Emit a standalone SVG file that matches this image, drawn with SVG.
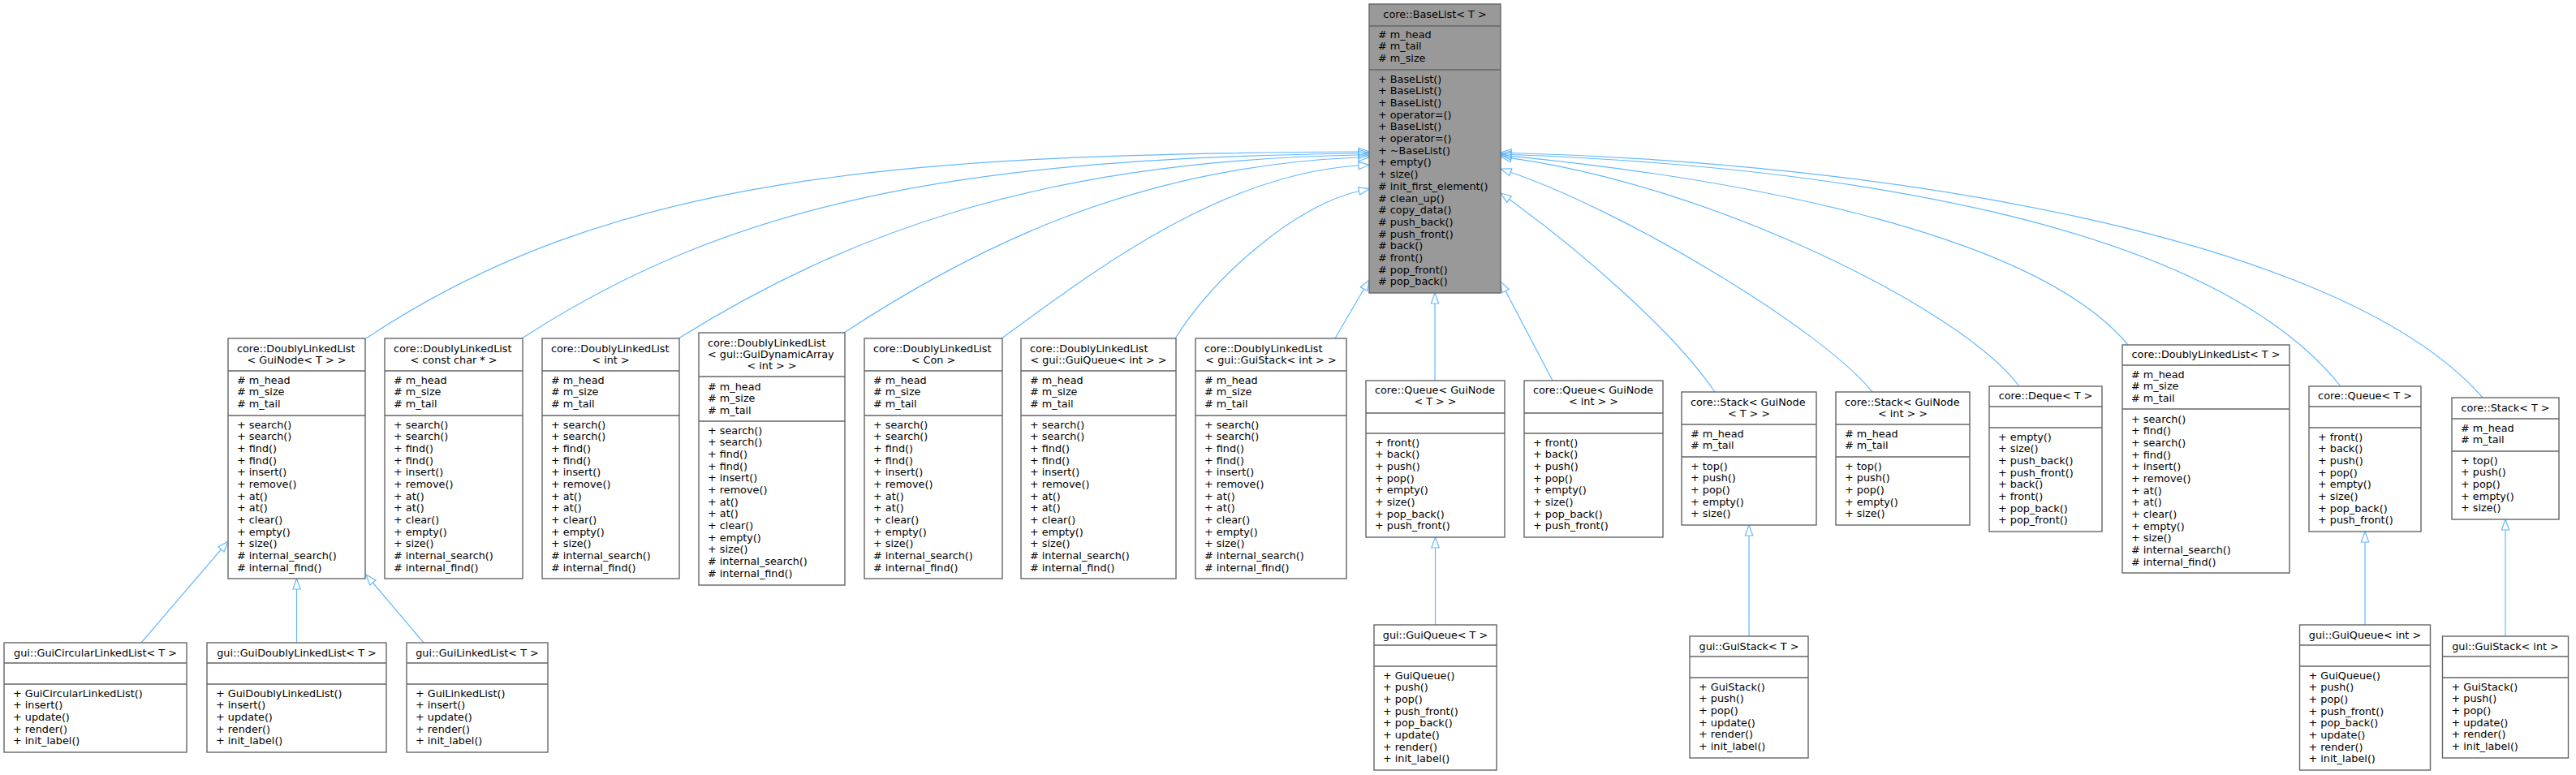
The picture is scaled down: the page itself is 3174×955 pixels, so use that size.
<svg xmlns="http://www.w3.org/2000/svg" width="3174" height="955" viewBox="0 0 3174 955">
<style>
.bx{fill:#ffffff;stroke:#666666;stroke-width:1.4}
.hl{fill:#999999}
.sep{fill:none;stroke:#666666;stroke-width:1.4}
.t{font-family:"DejaVu Sans","Liberation Sans",sans-serif;font-size:12.8px;fill:#000000}
.c{text-anchor:middle}
.e{fill:none;stroke:#63b8ff;stroke-width:1.2;marker-end:url(#tri)}
</style>
<defs>
<marker id="tri" markerUnits="userSpaceOnUse" viewBox="-1 -6 15 12" markerWidth="15" markerHeight="12" refX="0" refY="0" orient="auto" overflow="visible">
<path d="M0,-4.7L13,0L0,4.7Z" fill="none" stroke="#63b8ff" stroke-width="1.2"/>
</marker>
</defs>
<rect width="3174" height="955" fill="#ffffff"/>

<g id="edges">
<path class="e" d="M451,417C751,217 1100,190 1674,187"/>
<path class="e" d="M643,417C900,250 1180,195 1674,189"/>
<path class="e" d="M836,417C1040,290 1280,198 1674,191"/>
<path class="e" d="M1040,410C1200,305 1400,205 1674,194"/>
<path class="e" d="M1234,417C1340,340 1500,215 1674,204"/>
<path class="e" d="M1448,417C1500,335 1600,252 1674.5,235.5"/>
<path class="e" d="M1645,417L1680.5,356.2"/>
<path class="e" d="M1768,469L1768,374"/>
<path class="e" d="M1913,469L1855,358.5"/>
<path class="e" d="M2113,483C2060,405 1940.5,304 1859.5,245.6"/>
<path class="e" d="M2307,483C2244,405 2003,261 1861.3,212.2"/>
<path class="e" d="M2488,476C2416,380 2109,229 1861.9,194.8"/>
<path class="e" d="M2622,425C2510,290 2159,222 1862,192.3"/>
<path class="e" d="M2884,476C2720,270 2250,205 1862,190.5"/>
<path class="e" d="M3059,490C2880,285 2300,200 1862,188.5"/>
<path class="e" d="M174,792L272.5,677"/>
<path class="e" d="M365.5,792L365.5,726"/>
<path class="e" d="M522,792L459.4,718"/>
<path class="e" d="M1768.5,770L1768.5,675"/>
<path class="e" d="M2155,784L2155,660"/>
<path class="e" d="M2914,770L2914,668"/>
<path class="e" d="M3087,784L3087,653"/>
</g>

<g id="n_base">
<rect class="bx hl" x="1687" y="5" width="162" height="356"/>
<path class="sep" d="M1687,32H1849M1687,86H1849"/>
<text class="t c" x="1768" y="22">core::BaseList&lt; T &gt;</text>
<text class="t" y="46.5"><tspan x="1698"># m_head</tspan><tspan x="1698" dy="14.67"># m_tail</tspan><tspan x="1698" dy="14.67"># m_size</tspan></text>
<text class="t" y="101.8"><tspan x="1698">+ BaseList()</tspan><tspan x="1698" dy="14.67">+ BaseList()</tspan><tspan x="1698" dy="14.67">+ BaseList()</tspan><tspan x="1698" dy="14.67">+ operator=()</tspan><tspan x="1698" dy="14.67">+ BaseList()</tspan><tspan x="1698" dy="14.67">+ operator=()</tspan><tspan x="1698" dy="14.67">+ ~BaseList()</tspan><tspan x="1698" dy="14.67">+ empty()</tspan><tspan x="1698" dy="14.67">+ size()</tspan><tspan x="1698" dy="14.67"># init_first_element()</tspan><tspan x="1698" dy="14.67"># clean_up()</tspan><tspan x="1698" dy="14.67"># copy_data()</tspan><tspan x="1698" dy="14.67"># push_back()</tspan><tspan x="1698" dy="14.67"># push_front()</tspan><tspan x="1698" dy="14.67"># back()</tspan><tspan x="1698" dy="14.67"># front()</tspan><tspan x="1698" dy="14.67"># pop_front()</tspan><tspan x="1698" dy="14.67"># pop_back()</tspan></text>
</g>

<g id="n_dll_guinode">
<rect class="bx" x="281" y="417" width="169" height="296"/>
<path class="sep" d="M281,457H450M281,512H450"/>
<text class="t" x="292" y="433.5">core::DoublyLinkedList</text>
<text class="t c" x="365.5" y="447.5">&lt; GuiNode&lt; T &gt; &gt;</text>
<text class="t" y="472.5"><tspan x="292"># m_head</tspan><tspan x="292" dy="14.67"># m_size</tspan><tspan x="292" dy="14.67"># m_tail</tspan></text>
<text class="t" y="527.5"><tspan x="292">+ search()</tspan><tspan x="292" dy="14.67">+ search()</tspan><tspan x="292" dy="14.67">+ find()</tspan><tspan x="292" dy="14.67">+ find()</tspan><tspan x="292" dy="14.67">+ insert()</tspan><tspan x="292" dy="14.67">+ remove()</tspan><tspan x="292" dy="14.67">+ at()</tspan><tspan x="292" dy="14.67">+ at()</tspan><tspan x="292" dy="14.67">+ clear()</tspan><tspan x="292" dy="14.67">+ empty()</tspan><tspan x="292" dy="14.67">+ size()</tspan><tspan x="292" dy="14.67"># internal_search()</tspan><tspan x="292" dy="14.67"># internal_find()</tspan></text>
</g>

<g id="n_dll_cchar">
<rect class="bx" x="474" y="417" width="170" height="296"/>
<path class="sep" d="M474,457H644M474,512H644"/>
<text class="t" x="485" y="433.5">core::DoublyLinkedList</text>
<text class="t c" x="559" y="447.5">&lt; const char * &gt;</text>
<text class="t" y="472.5"><tspan x="485"># m_head</tspan><tspan x="485" dy="14.67"># m_size</tspan><tspan x="485" dy="14.67"># m_tail</tspan></text>
<text class="t" y="527.5"><tspan x="485">+ search()</tspan><tspan x="485" dy="14.67">+ search()</tspan><tspan x="485" dy="14.67">+ find()</tspan><tspan x="485" dy="14.67">+ find()</tspan><tspan x="485" dy="14.67">+ insert()</tspan><tspan x="485" dy="14.67">+ remove()</tspan><tspan x="485" dy="14.67">+ at()</tspan><tspan x="485" dy="14.67">+ at()</tspan><tspan x="485" dy="14.67">+ clear()</tspan><tspan x="485" dy="14.67">+ empty()</tspan><tspan x="485" dy="14.67">+ size()</tspan><tspan x="485" dy="14.67"># internal_search()</tspan><tspan x="485" dy="14.67"># internal_find()</tspan></text>
</g>

<g id="n_dll_int">
<rect class="bx" x="668" y="417" width="169" height="296"/>
<path class="sep" d="M668,457H837M668,512H837"/>
<text class="t" x="679" y="433.5">core::DoublyLinkedList</text>
<text class="t c" x="752.5" y="447.5">&lt; int &gt;</text>
<text class="t" y="472.5"><tspan x="679"># m_head</tspan><tspan x="679" dy="14.67"># m_size</tspan><tspan x="679" dy="14.67"># m_tail</tspan></text>
<text class="t" y="527.5"><tspan x="679">+ search()</tspan><tspan x="679" dy="14.67">+ search()</tspan><tspan x="679" dy="14.67">+ find()</tspan><tspan x="679" dy="14.67">+ find()</tspan><tspan x="679" dy="14.67">+ insert()</tspan><tspan x="679" dy="14.67">+ remove()</tspan><tspan x="679" dy="14.67">+ at()</tspan><tspan x="679" dy="14.67">+ at()</tspan><tspan x="679" dy="14.67">+ clear()</tspan><tspan x="679" dy="14.67">+ empty()</tspan><tspan x="679" dy="14.67">+ size()</tspan><tspan x="679" dy="14.67"># internal_search()</tspan><tspan x="679" dy="14.67"># internal_find()</tspan></text>
</g>

<g id="n_dll_dynarr">
<rect class="bx" x="861" y="410" width="180" height="311"/>
<path class="sep" d="M861,464H1041M861,519H1041"/>
<text class="t" x="872" y="426.5">core::DoublyLinkedList</text>
<text class="t" x="872" y="440.5">&lt; gui::GuiDynamicArray</text>
<text class="t c" x="951" y="454.5">&lt; int &gt; &gt;</text>
<text class="t" y="480.8"><tspan x="872"># m_head</tspan><tspan x="872" dy="14.67"># m_size</tspan><tspan x="872" dy="14.67"># m_tail</tspan></text>
<text class="t" y="534.5"><tspan x="872">+ search()</tspan><tspan x="872" dy="14.67">+ search()</tspan><tspan x="872" dy="14.67">+ find()</tspan><tspan x="872" dy="14.67">+ find()</tspan><tspan x="872" dy="14.67">+ insert()</tspan><tspan x="872" dy="14.67">+ remove()</tspan><tspan x="872" dy="14.67">+ at()</tspan><tspan x="872" dy="14.67">+ at()</tspan><tspan x="872" dy="14.67">+ clear()</tspan><tspan x="872" dy="14.67">+ empty()</tspan><tspan x="872" dy="14.67">+ size()</tspan><tspan x="872" dy="14.67"># internal_search()</tspan><tspan x="872" dy="14.67"># internal_find()</tspan></text>
</g>

<g id="n_dll_con">
<rect class="bx" x="1065" y="417" width="170" height="296"/>
<path class="sep" d="M1065,457H1235M1065,512H1235"/>
<text class="t" x="1076" y="433.5">core::DoublyLinkedList</text>
<text class="t c" x="1150" y="447.5">&lt; Con &gt;</text>
<text class="t" y="472.5"><tspan x="1076"># m_head</tspan><tspan x="1076" dy="14.67"># m_size</tspan><tspan x="1076" dy="14.67"># m_tail</tspan></text>
<text class="t" y="527.5"><tspan x="1076">+ search()</tspan><tspan x="1076" dy="14.67">+ search()</tspan><tspan x="1076" dy="14.67">+ find()</tspan><tspan x="1076" dy="14.67">+ find()</tspan><tspan x="1076" dy="14.67">+ insert()</tspan><tspan x="1076" dy="14.67">+ remove()</tspan><tspan x="1076" dy="14.67">+ at()</tspan><tspan x="1076" dy="14.67">+ at()</tspan><tspan x="1076" dy="14.67">+ clear()</tspan><tspan x="1076" dy="14.67">+ empty()</tspan><tspan x="1076" dy="14.67">+ size()</tspan><tspan x="1076" dy="14.67"># internal_search()</tspan><tspan x="1076" dy="14.67"># internal_find()</tspan></text>
</g>

<g id="n_dll_guiqueue">
<rect class="bx" x="1258" y="417" width="191" height="296"/>
<path class="sep" d="M1258,457H1449M1258,512H1449"/>
<text class="t" x="1269" y="433.5">core::DoublyLinkedList</text>
<text class="t c" x="1353.5" y="447.5">&lt; gui::GuiQueue&lt; int &gt; &gt;</text>
<text class="t" y="472.5"><tspan x="1269"># m_head</tspan><tspan x="1269" dy="14.67"># m_size</tspan><tspan x="1269" dy="14.67"># m_tail</tspan></text>
<text class="t" y="527.5"><tspan x="1269">+ search()</tspan><tspan x="1269" dy="14.67">+ search()</tspan><tspan x="1269" dy="14.67">+ find()</tspan><tspan x="1269" dy="14.67">+ find()</tspan><tspan x="1269" dy="14.67">+ insert()</tspan><tspan x="1269" dy="14.67">+ remove()</tspan><tspan x="1269" dy="14.67">+ at()</tspan><tspan x="1269" dy="14.67">+ at()</tspan><tspan x="1269" dy="14.67">+ clear()</tspan><tspan x="1269" dy="14.67">+ empty()</tspan><tspan x="1269" dy="14.67">+ size()</tspan><tspan x="1269" dy="14.67"># internal_search()</tspan><tspan x="1269" dy="14.67"># internal_find()</tspan></text>
</g>

<g id="n_dll_guistack">
<rect class="bx" x="1473" y="417" width="186" height="296"/>
<path class="sep" d="M1473,457H1659M1473,512H1659"/>
<text class="t" x="1484" y="433.5">core::DoublyLinkedList</text>
<text class="t c" x="1566" y="447.5">&lt; gui::GuiStack&lt; int &gt; &gt;</text>
<text class="t" y="472.5"><tspan x="1484"># m_head</tspan><tspan x="1484" dy="14.67"># m_size</tspan><tspan x="1484" dy="14.67"># m_tail</tspan></text>
<text class="t" y="527.5"><tspan x="1484">+ search()</tspan><tspan x="1484" dy="14.67">+ search()</tspan><tspan x="1484" dy="14.67">+ find()</tspan><tspan x="1484" dy="14.67">+ find()</tspan><tspan x="1484" dy="14.67">+ insert()</tspan><tspan x="1484" dy="14.67">+ remove()</tspan><tspan x="1484" dy="14.67">+ at()</tspan><tspan x="1484" dy="14.67">+ at()</tspan><tspan x="1484" dy="14.67">+ clear()</tspan><tspan x="1484" dy="14.67">+ empty()</tspan><tspan x="1484" dy="14.67">+ size()</tspan><tspan x="1484" dy="14.67"># internal_search()</tspan><tspan x="1484" dy="14.67"># internal_find()</tspan></text>
</g>

<g id="n_queue_guinode_t">
<rect class="bx" x="1683" y="469" width="171" height="193"/>
<path class="sep" d="M1683,509H1854M1683,534H1854"/>
<text class="t" x="1694" y="484.5">core::Queue&lt; GuiNode</text>
<text class="t c" x="1768.5" y="498.5">&lt; T &gt; &gt;</text>
<text class="t" y="549.5"><tspan x="1694">+ front()</tspan><tspan x="1694" dy="14.67">+ back()</tspan><tspan x="1694" dy="14.67">+ push()</tspan><tspan x="1694" dy="14.67">+ pop()</tspan><tspan x="1694" dy="14.67">+ empty()</tspan><tspan x="1694" dy="14.67">+ size()</tspan><tspan x="1694" dy="14.67">+ pop_back()</tspan><tspan x="1694" dy="14.67">+ push_front()</tspan></text>
</g>

<g id="n_queue_guinode_int">
<rect class="bx" x="1878" y="469" width="171" height="193"/>
<path class="sep" d="M1878,509H2049M1878,534H2049"/>
<text class="t" x="1889" y="484.5">core::Queue&lt; GuiNode</text>
<text class="t c" x="1963.5" y="498.5">&lt; int &gt; &gt;</text>
<text class="t" y="549.5"><tspan x="1889">+ front()</tspan><tspan x="1889" dy="14.67">+ back()</tspan><tspan x="1889" dy="14.67">+ push()</tspan><tspan x="1889" dy="14.67">+ pop()</tspan><tspan x="1889" dy="14.67">+ empty()</tspan><tspan x="1889" dy="14.67">+ size()</tspan><tspan x="1889" dy="14.67">+ pop_back()</tspan><tspan x="1889" dy="14.67">+ push_front()</tspan></text>
</g>

<g id="n_stack_guinode_t">
<rect class="bx" x="2072" y="483" width="166" height="164"/>
<path class="sep" d="M2072,523H2238M2072,563H2238"/>
<text class="t" x="2083" y="499.5">core::Stack&lt; GuiNode</text>
<text class="t c" x="2155" y="513.5">&lt; T &gt; &gt;</text>
<text class="t" y="538.5"><tspan x="2083"># m_head</tspan><tspan x="2083" dy="14.67"># m_tail</tspan></text>
<text class="t" y="578.5"><tspan x="2083">+ top()</tspan><tspan x="2083" dy="14.67">+ push()</tspan><tspan x="2083" dy="14.67">+ pop()</tspan><tspan x="2083" dy="14.67">+ empty()</tspan><tspan x="2083" dy="14.67">+ size()</tspan></text>
</g>

<g id="n_stack_guinode_int">
<rect class="bx" x="2262" y="483" width="165" height="164"/>
<path class="sep" d="M2262,523H2427M2262,563H2427"/>
<text class="t" x="2273" y="499.5">core::Stack&lt; GuiNode</text>
<text class="t c" x="2344.5" y="513.5">&lt; int &gt; &gt;</text>
<text class="t" y="538.5"><tspan x="2273"># m_head</tspan><tspan x="2273" dy="14.67"># m_tail</tspan></text>
<text class="t" y="578.5"><tspan x="2273">+ top()</tspan><tspan x="2273" dy="14.67">+ push()</tspan><tspan x="2273" dy="14.67">+ pop()</tspan><tspan x="2273" dy="14.67">+ empty()</tspan><tspan x="2273" dy="14.67">+ size()</tspan></text>
</g>

<g id="n_deque">
<rect class="bx" x="2451" y="476" width="139" height="179"/>
<path class="sep" d="M2451,501H2590M2451,527H2590"/>
<text class="t c" x="2520.5" y="491.5">core::Deque&lt; T &gt;</text>
<text class="t" y="542.5"><tspan x="2462">+ empty()</tspan><tspan x="2462" dy="14.67">+ size()</tspan><tspan x="2462" dy="14.67">+ push_back()</tspan><tspan x="2462" dy="14.67">+ push_front()</tspan><tspan x="2462" dy="14.67">+ back()</tspan><tspan x="2462" dy="14.67">+ front()</tspan><tspan x="2462" dy="14.67">+ pop_back()</tspan><tspan x="2462" dy="14.67">+ pop_front()</tspan></text>
</g>

<g id="n_dll_t">
<rect class="bx" x="2615" y="425" width="206" height="281"/>
<path class="sep" d="M2615,450H2821M2615,504H2821"/>
<text class="t c" x="2718" y="440.5">core::DoublyLinkedList&lt; T &gt;</text>
<text class="t" y="465.5"><tspan x="2626"># m_head</tspan><tspan x="2626" dy="14.67"># m_size</tspan><tspan x="2626" dy="14.67"># m_tail</tspan></text>
<text class="t" y="520.5"><tspan x="2626">+ search()</tspan><tspan x="2626" dy="14.67">+ find()</tspan><tspan x="2626" dy="14.67">+ search()</tspan><tspan x="2626" dy="14.67">+ find()</tspan><tspan x="2626" dy="14.67">+ insert()</tspan><tspan x="2626" dy="14.67">+ remove()</tspan><tspan x="2626" dy="14.67">+ at()</tspan><tspan x="2626" dy="14.67">+ at()</tspan><tspan x="2626" dy="14.67">+ clear()</tspan><tspan x="2626" dy="14.67">+ empty()</tspan><tspan x="2626" dy="14.67">+ size()</tspan><tspan x="2626" dy="14.67"># internal_search()</tspan><tspan x="2626" dy="14.67"># internal_find()</tspan></text>
</g>

<g id="n_queue_t">
<rect class="bx" x="2845" y="476" width="138" height="179"/>
<path class="sep" d="M2845,501H2983M2845,527H2983"/>
<text class="t c" x="2914" y="491.5">core::Queue&lt; T &gt;</text>
<text class="t" y="542.5"><tspan x="2856">+ front()</tspan><tspan x="2856" dy="14.67">+ back()</tspan><tspan x="2856" dy="14.67">+ push()</tspan><tspan x="2856" dy="14.67">+ pop()</tspan><tspan x="2856" dy="14.67">+ empty()</tspan><tspan x="2856" dy="14.67">+ size()</tspan><tspan x="2856" dy="14.67">+ pop_back()</tspan><tspan x="2856" dy="14.67">+ push_front()</tspan></text>
</g>

<g id="n_stack_t">
<rect class="bx" x="3021" y="490" width="132" height="150"/>
<path class="sep" d="M3021,516H3153M3021,556H3153"/>
<text class="t c" x="3087" y="506.5">core::Stack&lt; T &gt;</text>
<text class="t" y="531.5"><tspan x="3032"># m_head</tspan><tspan x="3032" dy="14.67"># m_tail</tspan></text>
<text class="t" y="571.5"><tspan x="3032">+ top()</tspan><tspan x="3032" dy="14.67">+ push()</tspan><tspan x="3032" dy="14.67">+ pop()</tspan><tspan x="3032" dy="14.67">+ empty()</tspan><tspan x="3032" dy="14.67">+ size()</tspan></text>
</g>

<g id="n_guicll">
<rect class="bx" x="5" y="792" width="225" height="135"/>
<path class="sep" d="M5,817H230M5,843H230"/>
<text class="t c" x="117.5" y="808.5">gui::GuiCircularLinkedList&lt; T &gt;</text>
<text class="t" y="858.5"><tspan x="16">+ GuiCircularLinkedList()</tspan><tspan x="16" dy="14.67">+ insert()</tspan><tspan x="16" dy="14.67">+ update()</tspan><tspan x="16" dy="14.67">+ render()</tspan><tspan x="16" dy="14.67">+ init_label()</tspan></text>
</g>

<g id="n_guidll">
<rect class="bx" x="255" y="792" width="221" height="135"/>
<path class="sep" d="M255,817H476M255,843H476"/>
<text class="t c" x="365.5" y="808.5">gui::GuiDoublyLinkedList&lt; T &gt;</text>
<text class="t" y="858.5"><tspan x="266">+ GuiDoublyLinkedList()</tspan><tspan x="266" dy="14.67">+ insert()</tspan><tspan x="266" dy="14.67">+ update()</tspan><tspan x="266" dy="14.67">+ render()</tspan><tspan x="266" dy="14.67">+ init_label()</tspan></text>
</g>

<g id="n_guill">
<rect class="bx" x="501" y="792" width="174" height="135"/>
<path class="sep" d="M501,817H675M501,843H675"/>
<text class="t c" x="588" y="808.5">gui::GuiLinkedList&lt; T &gt;</text>
<text class="t" y="858.5"><tspan x="512">+ GuiLinkedList()</tspan><tspan x="512" dy="14.67">+ insert()</tspan><tspan x="512" dy="14.67">+ update()</tspan><tspan x="512" dy="14.67">+ render()</tspan><tspan x="512" dy="14.67">+ init_label()</tspan></text>
</g>

<g id="n_guiqueue_t">
<rect class="bx" x="1693" y="770" width="151" height="179"/>
<path class="sep" d="M1693,795H1844M1693,821H1844"/>
<text class="t c" x="1768.5" y="786.5">gui::GuiQueue&lt; T &gt;</text>
<text class="t" y="836.5"><tspan x="1704">+ GuiQueue()</tspan><tspan x="1704" dy="14.67">+ push()</tspan><tspan x="1704" dy="14.67">+ pop()</tspan><tspan x="1704" dy="14.67">+ push_front()</tspan><tspan x="1704" dy="14.67">+ pop_back()</tspan><tspan x="1704" dy="14.67">+ update()</tspan><tspan x="1704" dy="14.67">+ render()</tspan><tspan x="1704" dy="14.67">+ init_label()</tspan></text>
</g>

<g id="n_guistack_t">
<rect class="bx" x="2082" y="784" width="146" height="150"/>
<path class="sep" d="M2082,809H2228M2082,835H2228"/>
<text class="t c" x="2155" y="800.5">gui::GuiStack&lt; T &gt;</text>
<text class="t" y="850.5"><tspan x="2093">+ GuiStack()</tspan><tspan x="2093" dy="14.67">+ push()</tspan><tspan x="2093" dy="14.67">+ pop()</tspan><tspan x="2093" dy="14.67">+ update()</tspan><tspan x="2093" dy="14.67">+ render()</tspan><tspan x="2093" dy="14.67">+ init_label()</tspan></text>
</g>

<g id="n_guiqueue_int">
<rect class="bx" x="2833.5" y="770" width="161" height="179"/>
<path class="sep" d="M2833.5,795H2994.5M2833.5,821H2994.5"/>
<text class="t c" x="2914" y="786.5">gui::GuiQueue&lt; int &gt;</text>
<text class="t" y="836.5"><tspan x="2844.5">+ GuiQueue()</tspan><tspan x="2844.5" dy="14.67">+ push()</tspan><tspan x="2844.5" dy="14.67">+ pop()</tspan><tspan x="2844.5" dy="14.67">+ push_front()</tspan><tspan x="2844.5" dy="14.67">+ pop_back()</tspan><tspan x="2844.5" dy="14.67">+ update()</tspan><tspan x="2844.5" dy="14.67">+ render()</tspan><tspan x="2844.5" dy="14.67">+ init_label()</tspan></text>
</g>

<g id="n_guistack_int">
<rect class="bx" x="3009.5" y="784" width="155" height="150"/>
<path class="sep" d="M3009.5,809H3164.5M3009.5,835H3164.5"/>
<text class="t c" x="3087" y="800.5">gui::GuiStack&lt; int &gt;</text>
<text class="t" y="850.5"><tspan x="3020.5">+ GuiStack()</tspan><tspan x="3020.5" dy="14.67">+ push()</tspan><tspan x="3020.5" dy="14.67">+ pop()</tspan><tspan x="3020.5" dy="14.67">+ update()</tspan><tspan x="3020.5" dy="14.67">+ render()</tspan><tspan x="3020.5" dy="14.67">+ init_label()</tspan></text>
</g>
</svg>
